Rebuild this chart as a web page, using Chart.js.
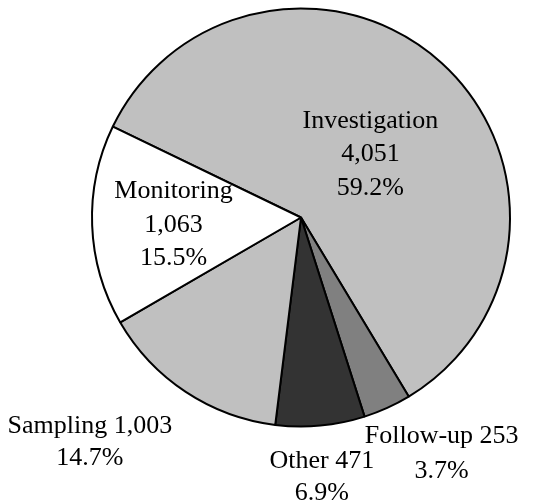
<!DOCTYPE html>
<html>
<head>
<meta charset="utf-8">
<script src="https://cdn.jsdelivr.net/npm/chart.js@4.4.1/dist/chart.umd.min.js"></script>
<style>
  html, body { margin: 0; padding: 0; background: #ffffff; }
  #wrap { width: 554px; height: 504px; position: relative; }
</style>
</head>
<body>
<div id="wrap"><canvas id="c" width="554" height="504"></canvas></div>
<script>
const categories = ["Investigation", "Follow-up", "Other", "Sampling", "Monitoring"];
const counts = [4051, 253, 471, 1003, 1063];
const percentLabels = ["59.2%", "3.7%", "6.9%", "14.7%", "15.5%"];
const countLabels = ["4,051", "253", "471", "1,003", "1,063"];
const sliceColors = ["#c0c0c0", "#808080", "#333333", "#c0c0c0", "#ffffff"];

// label layout: lines per slice and anchor (first baseline) relative to pie center in radius units
const labelLines = [
  ["Investigation", countLabels[0], percentLabels[0]],
  ["Follow-up " + countLabels[1], percentLabels[1]],
  ["Other " + countLabels[2], percentLabels[2]],
  ["Sampling " + countLabels[3], percentLabels[3]],
  ["Monitoring", countLabels[4], percentLabels[4]]
];
const labelAnchor = [
  [0.332, -0.430, 33.6],
  [0.673, 1.080, 35],
  [0.100, 1.200, 31.7],
  [-1.010, 1.032, 31.7],
  [-0.610, -0.092, 33.4]
];

const labelPlugin = {
  id: 'sliceLabels',
  afterDatasetsDraw(chart) {
    const ctx = chart.ctx;
    const meta = chart.getDatasetMeta(0);
    const arc0 = meta.data[0];
    const cx = arc0.x, cy = arc0.y, R = arc0.outerRadius;
    ctx.save();
    ctx.font = '26px "Liberation Serif", "Times New Roman", serif';
    ctx.fillStyle = '#000000';
    ctx.textAlign = 'center';
    ctx.textBaseline = 'alphabetic';
    labelLines.forEach((lines, i) => {
      const [fx, fy, lh] = labelAnchor[i];
      const x = cx + fx * R;
      let y = cy + fy * R;
      lines.forEach((t, j) => {
        ctx.fillText(t, x, y + j * lh);
      });
    });
    ctx.restore();
  }
};

new Chart(document.getElementById('c'), {
  type: 'pie',
  data: {
    labels: categories,
    datasets: [{
      data: counts,
      backgroundColor: sliceColors,
      borderColor: '#000000',
      borderWidth: 2
    }]
  },
  options: {
    responsive: false,
    animation: false,
    rotation: -64.2,
    layout: { padding: { left: 91, top: 7.5, right: 43, bottom: 76.5 } },
    plugins: {
      legend: { display: false },
      tooltip: { enabled: false }
    }
  },
  plugins: [labelPlugin]
});
</script>
</body>
</html>
